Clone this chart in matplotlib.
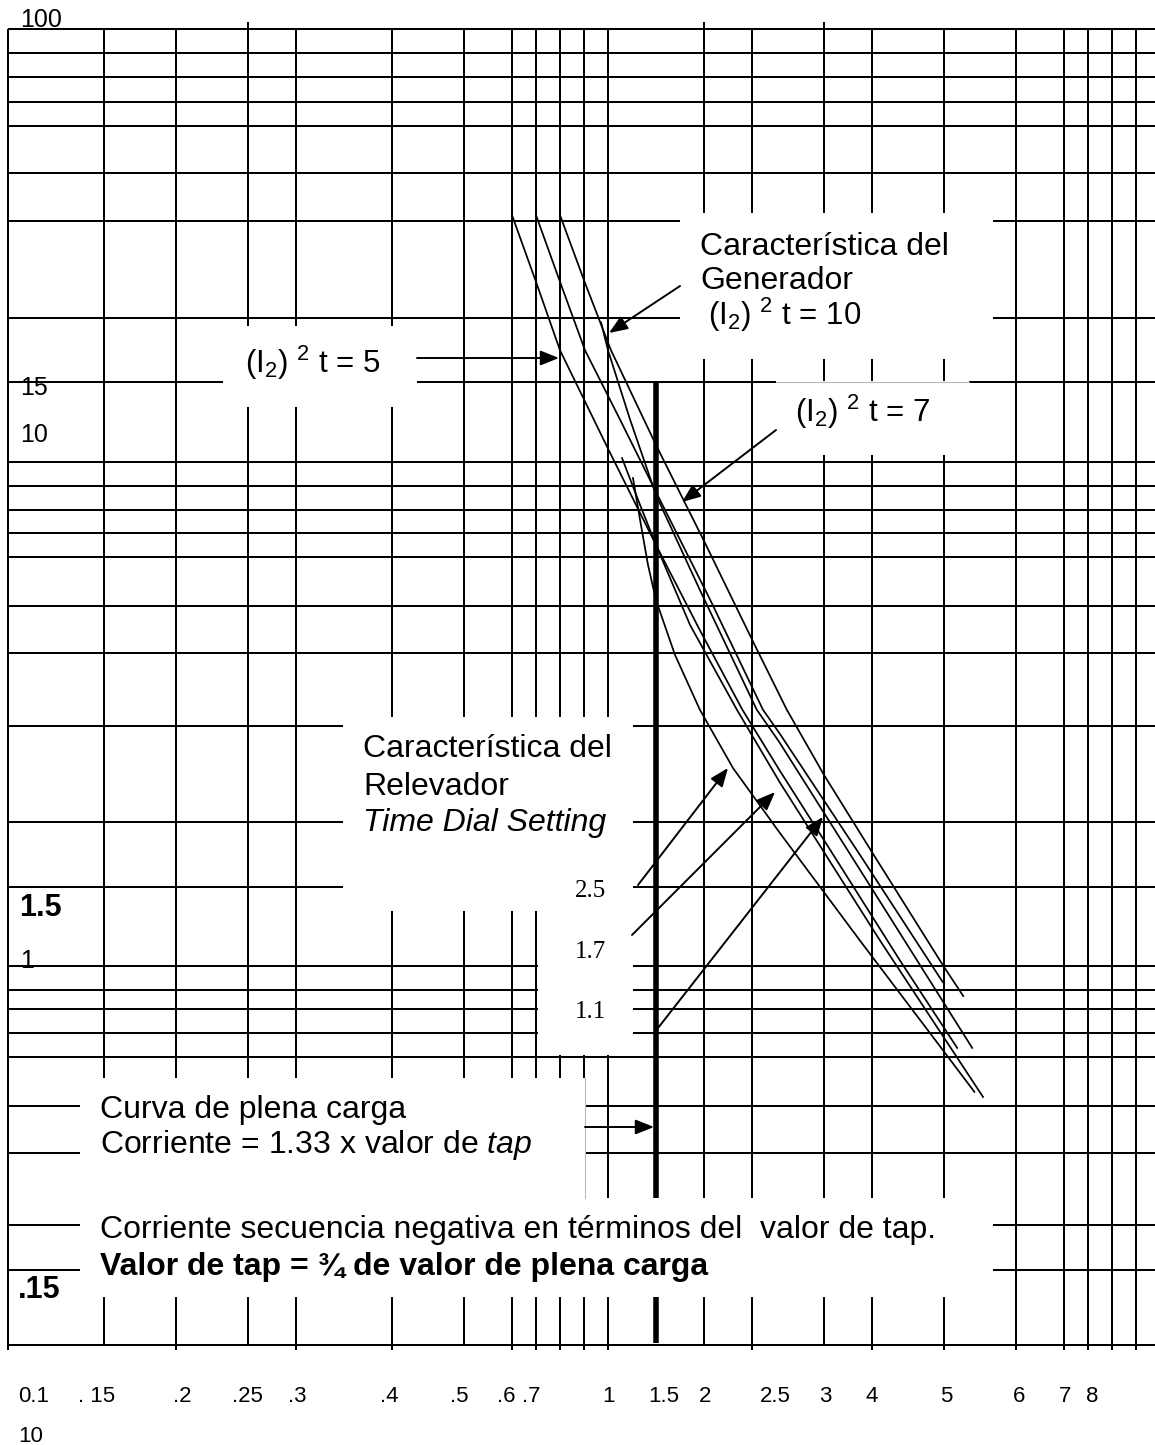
import numpy as np
import matplotlib
matplotlib.use("Agg")
import matplotlib.pyplot as plt
from matplotlib.transforms import Affine2D
from matplotlib.patches import Rectangle
from matplotlib.lines import Line2D

W, H = 1155, 1445
plt.rcParams['font.family'] = ['Liberation Sans', 'DejaVu Sans']
plt.rcParams['mathtext.fontset'] = 'custom'
plt.rcParams['mathtext.rm'] = 'Liberation Sans'
plt.rcParams['mathtext.it'] = 'Liberation Sans:italic'
plt.rcParams['mathtext.bf'] = 'Liberation Sans:bold'
plt.rcParams['mathtext.default'] = 'regular'

# ---- ruling of the hand-drawn log paper: value of each ruled line and its place on the sheet
x_ruling = [0.1, 0.15, 0.2, 0.25, 0.3, 0.4, 0.5, 0.6, 0.7, 0.8, 0.9, 1, 1.33,
            2, 2.5, 3, 4, 5, 6, 7, 8, 9, 10]
x_ruling_px = [8, 104, 176, 248, 296, 392, 464, 512, 536, 560, 584, 608, 656,
               704, 752, 824, 872, 944, 1016, 1064, 1088, 1112, 1136]
y_ruling = [0.1, 0.15, 0.3, 0.4, 0.5, 0.6, 0.7, 0.8, 0.9, 1, 1.5, 2, 3, 4, 5,
            6, 7, 8, 9, 10, 15, 20, 40, 50, 60, 70, 80, 90, 100]
y_ruling_px = [1345, 1270, 1225, 1153, 1106, 1057, 1033, 1009, 990, 966, 887,
               822, 726, 653, 606, 557, 533, 510, 486, 462, 382, 318, 221, 173,
               126, 102, 77, 53, 29]

# ---- curves: current in multiples of tap value vs. time (s)
gen5_I = [0.6, 0.7, 0.8, 1.0, 1.33, 1.93, 2.39, 2.68, 3.11, 4.36, 5.17]
gen5_t = [41.1, 25.9, 17.3, 10.7, 6.48, 4.46, 3.20, 2.49, 1.77, 1.03, 0.636]
gen7_I = [0.7, 0.8, 0.904, 1.074, 1.33, 2.06, 2.57, 2.68, 3.72, 4.98]
gen7_t = [41.1, 25.9, 17.3, 12.4, 8.74, 5.11, 3.20, 2.91, 1.73, 0.932]
gen10_I = [0.8, 0.904, 1.018, 1.33, 2.01, 2.51, 2.73, 3.0, 4.0, 5.0, 5.25]
gen10_t = [41.1, 25.7, 17.3, 10.9, 6.56, 4.20, 3.20, 2.44, 1.75, 0.996, 0.867]
tds25_I = [0.970, 1.0, 1.14, 1.33, 1.93, 2.53, 2.68, 3.95, 5.37]
tds25_t = [19.6, 17.3, 12.4, 8.61, 5.31, 3.20, 2.80, 1.51, 0.636]
tds17_I = [1.087, 1.21, 1.33, 1.776, 2.33, 2.68, 4.10, 5.52]
tds17_t = [10.2, 8.20, 6.48, 4.57, 3.20, 2.37, 1.14, 0.517]
tds11_I = [1.16, 1.21, 1.268, 1.33, 1.563, 1.93, 2.29, 2.68, 3.72, 4.98, 5.40]
tds11_t = [9.32, 7.55, 5.83, 5.11, 3.97, 3.20, 2.51, 1.91, 1.14, 0.628, 0.527]
full_load_current = 1.33

x_tick_text = ["0.1", ". 15", ".2", ".25", ".3", ".4", ".5", ".6", ".7", "1",
               "1.5", "2", "2.5", "3", "4", "5", "6", "7", "8"]
x_tick_px = [18, 78, 173, 232, 288, 380, 450, 497, 522, 602, 648, 699, 760,
             819, 866, 940, 1013, 1059, 1086]


def paper_scale(values, px, flip):
    lv = np.log10(np.asarray(values, float))
    p = np.asarray(px, float) * (-1 if flip else 1)
    order = np.argsort(lv)
    lv, p = lv[order], p[order]

    def fwd(v):
        v = np.asarray(v, float)
        with np.errstate(divide='ignore', invalid='ignore'):
            lg = np.log10(np.where(v > 0, v, np.nan))
        return np.interp(lg, lv, p)

    def inv(q):
        return 10 ** np.interp(np.asarray(q, float), p, lv)
    return fwd, inv


fig = plt.figure(figsize=(W / 100, H / 100), dpi=100)
X0, X1, Y0, Y1 = 8, 1136, 29, 1345
ax = fig.add_axes([X0 / W, (H - Y1) / H, (X1 - X0) / W, (Y1 - Y0) / H])
ax.set_autoscale_on(False)
ax.set_xscale('function', functions=paper_scale(x_ruling, x_ruling_px, False))
ax.set_yscale('function', functions=paper_scale(y_ruling, y_ruling_px, True))
ax.set_xlim(0.1, 10)
ax.set_ylim(0.1, 100)
ax.axis('off')

paper = Affine2D().scale(1 / W, -1 / H).translate(0, 1) + fig.transFigure


def fx(px):
    return (px - X0) / (X1 - X0)


def fy(py):
    return (Y1 - py) / (Y1 - Y0)


GRID_LW = 1.45
up_stub = {0.25, 2, 3}
through = {0.1, 0.2, 0.3, 0.4, 0.6, 0.7, 0.8, 0.9, 1, 2.5, 4, 5, 6, 7, 8, 9, 10}
for v in x_ruling:
    if v == full_load_current:
        continue
    top = 22 if v in up_stub else 29
    bot = 1350 if v in through else 1345
    ax.axvline(v, ymin=fy(bot), ymax=fy(top), color='k', lw=GRID_LW,
               clip_on=False, zorder=1, solid_capstyle='butt')
for v in y_ruling:
    ax.axhline(v, xmin=0, xmax=fx(W), color='k', lw=GRID_LW, clip_on=False,
               zorder=1, solid_capstyle='butt')

# heavy full-load line
ax.axvline(full_load_current, ymin=fy(1343), ymax=fy(382), color='k', lw=4.0,
           clip_on=False, zorder=1.5, solid_capstyle='butt')

# white label areas that interrupt the ruling
boxes = [(680, 213, 993, 359), (223, 326, 417, 407), (776, 381, 969, 455),
         (343, 717, 633, 911), (538, 911, 633, 1055), (80, 1078, 585, 1297),
         (80, 1198, 993, 1297)]
for x0, y0, x1, y1 in boxes:
    ax.add_patch(Rectangle((x0, y0), x1 - x0, y1 - y0, transform=paper,
                           facecolor='white', edgecolor='none', zorder=2,
                           clip_on=False))
for xs, ys in [([776, 969], [382, 382]), ([585, 585], [1078, 1198])]:
    ax.add_line(Line2D(xs, ys, transform=paper, color='#b8b8b8', lw=0.8,
                       zorder=2.2, clip_on=False))

# characteristic curves
for I, t in [(gen5_I, gen5_t), (gen7_I, gen7_t), (gen10_I, gen10_t),
             (tds25_I, tds25_t), (tds17_I, tds17_t), (tds11_I, tds11_t)]:
    ax.plot(I, t, color='k', lw=1.25, zorder=3, solid_joinstyle='round')


def arrow(tail, tip):
    ax.annotate('', xy=tip, xycoords=paper, xytext=tail, textcoords=paper,
                arrowprops=dict(arrowstyle='-|>,head_length=0.75,head_width=0.3',
                                mutation_scale=15, lw=1.4, color='k',
                                shrinkA=0, shrinkB=0),
                annotation_clip=False, zorder=4)


arrow((417, 358), (559, 358))
arrow((680, 286), (609, 333))
arrow((776, 430), (682, 502))
arrow((638, 885), (728, 768))
arrow((632, 935), (775, 792))
arrow((658, 1028), (823, 817))
arrow((585, 1127), (654, 1127))


def txt(x, y, s, size=23, **kw):
    ax.text(x, y, s, transform=paper, fontsize=size, ha='left', va='baseline',
            zorder=4, clip_on=False, **kw)


# side labels
txt(20, 27, "100", 18)
txt(20, 395, "15", 18)
txt(20, 442, "10", 18)
txt(19, 916, "1.5", 22, fontweight='bold')
txt(20, 968, "1", 18)
txt(18, 1298, ".15", 22, fontweight='bold')
for s, px in zip(x_tick_text, x_tick_px):
    txt(px, 1402, s, 16)
txt(18, 1442, "10", 16)

# annotations
txt(700, 255, "Característica del")
txt(700, 289, "Generador")
txt(708, 325, "(I$_2$) $^2$ t = 10", 22.5)
txt(245, 373, "(I$_2$) $^2$ t = 5", 22.5)
txt(795, 422, "(I$_2$) $^2$ t = 7", 22.5)
txt(363, 757, "Característica del")
txt(363, 795, "Relevador")
txt(363, 831, "Time Dial Setting", style='italic')
for s, y in [("2.5", 897), ("1.7", 958), ("1.1", 1018)]:
    txt(575, y, s, 18, family='Liberation Serif')
txt(100, 1118, "Curva de plena carga")
txt(100, 1153, "Corriente = 1.33 x valor de $\\mathit{tap}$")
txt(100, 1238, "Corriente secuencia negativa en términos del  valor de tap.")
txt(100, 1275, "Valor de tap = ¾ de valor de plena carga", fontweight='bold')

fig.savefig("out.png", dpi=100, facecolor='white')
